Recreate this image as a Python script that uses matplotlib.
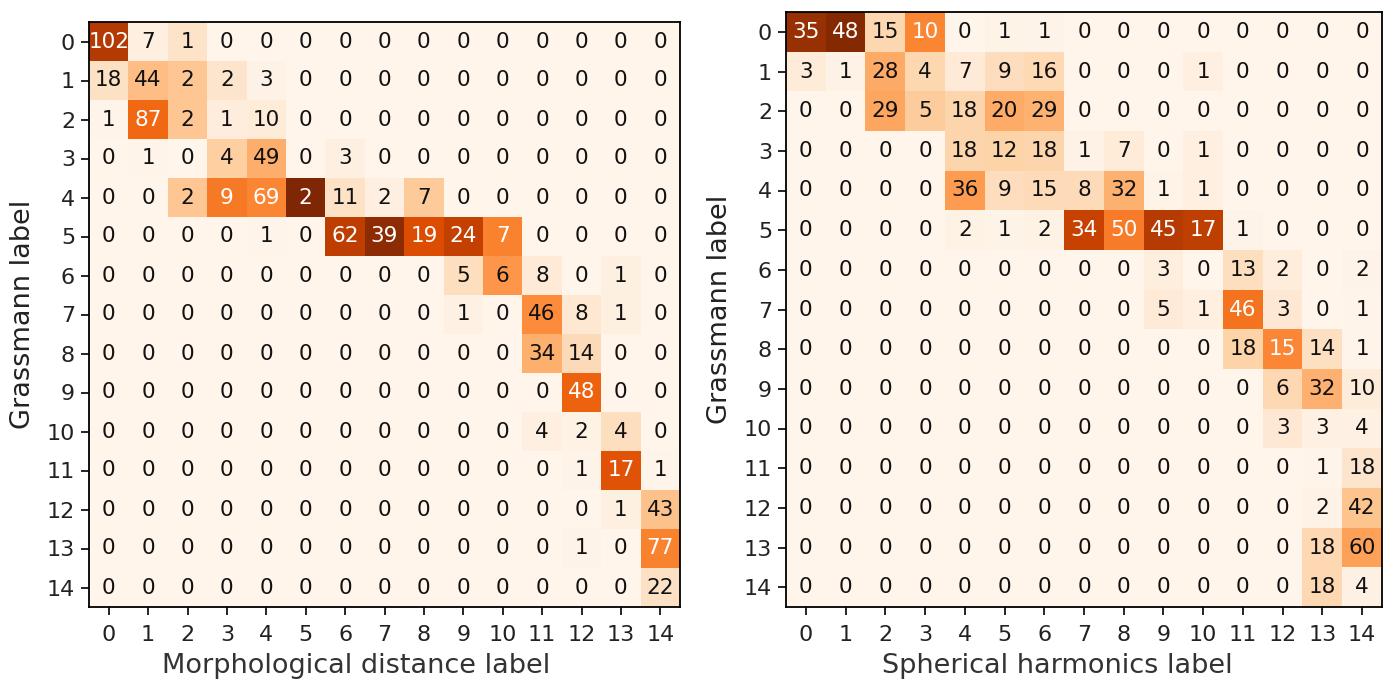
import matplotlib
matplotlib.use("Agg")
import matplotlib.pyplot as plt
import numpy as np

labels = list(range(15))

# rows: Grassmann label, columns: other method label
morph_counts = [
    [102, 7, 1, 0, 0, 0, 0, 0, 0, 0, 0, 0, 0, 0, 0],
    [18, 44, 2, 2, 3, 0, 0, 0, 0, 0, 0, 0, 0, 0, 0],
    [1, 87, 2, 1, 10, 0, 0, 0, 0, 0, 0, 0, 0, 0, 0],
    [0, 1, 0, 4, 49, 0, 3, 0, 0, 0, 0, 0, 0, 0, 0],
    [0, 0, 2, 9, 69, 2, 11, 2, 7, 0, 0, 0, 0, 0, 0],
    [0, 0, 0, 0, 1, 0, 62, 39, 19, 24, 7, 0, 0, 0, 0],
    [0, 0, 0, 0, 0, 0, 0, 0, 0, 5, 6, 8, 0, 1, 0],
    [0, 0, 0, 0, 0, 0, 0, 0, 0, 1, 0, 46, 8, 1, 0],
    [0, 0, 0, 0, 0, 0, 0, 0, 0, 0, 0, 34, 14, 0, 0],
    [0, 0, 0, 0, 0, 0, 0, 0, 0, 0, 0, 0, 48, 0, 0],
    [0, 0, 0, 0, 0, 0, 0, 0, 0, 0, 0, 4, 2, 4, 0],
    [0, 0, 0, 0, 0, 0, 0, 0, 0, 0, 0, 0, 1, 17, 1],
    [0, 0, 0, 0, 0, 0, 0, 0, 0, 0, 0, 0, 0, 1, 43],
    [0, 0, 0, 0, 0, 0, 0, 0, 0, 0, 0, 0, 1, 0, 77],
    [0, 0, 0, 0, 0, 0, 0, 0, 0, 0, 0, 0, 0, 0, 22],
]

sph_counts = [
    [35, 48, 15, 10, 0, 1, 1, 0, 0, 0, 0, 0, 0, 0, 0],
    [3, 1, 28, 4, 7, 9, 16, 0, 0, 0, 1, 0, 0, 0, 0],
    [0, 0, 29, 5, 18, 20, 29, 0, 0, 0, 0, 0, 0, 0, 0],
    [0, 0, 0, 0, 18, 12, 18, 1, 7, 0, 1, 0, 0, 0, 0],
    [0, 0, 0, 0, 36, 9, 15, 8, 32, 1, 1, 0, 0, 0, 0],
    [0, 0, 0, 0, 2, 1, 2, 34, 50, 45, 17, 1, 0, 0, 0],
    [0, 0, 0, 0, 0, 0, 0, 0, 0, 3, 0, 13, 2, 0, 2],
    [0, 0, 0, 0, 0, 0, 0, 0, 0, 5, 1, 46, 3, 0, 1],
    [0, 0, 0, 0, 0, 0, 0, 0, 0, 0, 0, 18, 15, 14, 1],
    [0, 0, 0, 0, 0, 0, 0, 0, 0, 0, 0, 0, 6, 32, 10],
    [0, 0, 0, 0, 0, 0, 0, 0, 0, 0, 0, 0, 3, 3, 4],
    [0, 0, 0, 0, 0, 0, 0, 0, 0, 0, 0, 0, 0, 1, 18],
    [0, 0, 0, 0, 0, 0, 0, 0, 0, 0, 0, 0, 0, 2, 42],
    [0, 0, 0, 0, 0, 0, 0, 0, 0, 0, 0, 0, 0, 18, 60],
    [0, 0, 0, 0, 0, 0, 0, 0, 0, 0, 0, 0, 0, 18, 4],
]


def draw_matrix(ax, counts, xlabel, xlabel_x):
    cm = np.array(counts, dtype=float)
    # colour by column-normalised fraction
    norm = cm / cm.sum(axis=0, keepdims=True)
    ax.imshow(norm, cmap="Oranges", vmin=0, vmax=1, aspect="auto",
              interpolation="nearest")
    for i in range(cm.shape[0]):
        for j in range(cm.shape[1]):
            color = "white" if norm[i, j] > 0.5 else "#111111"
            ax.text(j, i, str(int(cm[i, j])), ha="center", va="center",
                    color=color, fontsize=15.5)
    ax.set_xticks(range(len(labels)))
    ax.set_yticks(range(len(labels)))
    ax.set_xticklabels(labels)
    ax.set_yticklabels(labels)
    ax.tick_params(labelsize=16, length=6, width=1.2, labelcolor="#222222")
    ax.tick_params(axis="x", pad=7)
    ax.tick_params(axis="y", pad=4)
    ax.set_xlabel(xlabel, fontsize=19.5, color="#333333", labelpad=6)
    ax.xaxis.label.set_x(xlabel_x)
    ax.set_ylabel("Grassmann label", fontsize=19.5, color="#222222", labelpad=8)
    for s in ax.spines.values():
        s.set_linewidth(1.3)


fig = plt.figure(figsize=(13.97, 6.87), dpi=100)
W, H = 1397, 687
ax1 = fig.add_axes([89 / W, 1 - 607 / H, 591 / W, 585 / H])
ax2 = fig.add_axes([786 / W, 1 - 607 / H, 596 / W, 595 / H])

draw_matrix(ax1, morph_counts, "Morphological distance label", 0.452)
draw_matrix(ax2, sph_counts, "Spherical harmonics label", 0.455)

fig.savefig("out.png", dpi=100)
